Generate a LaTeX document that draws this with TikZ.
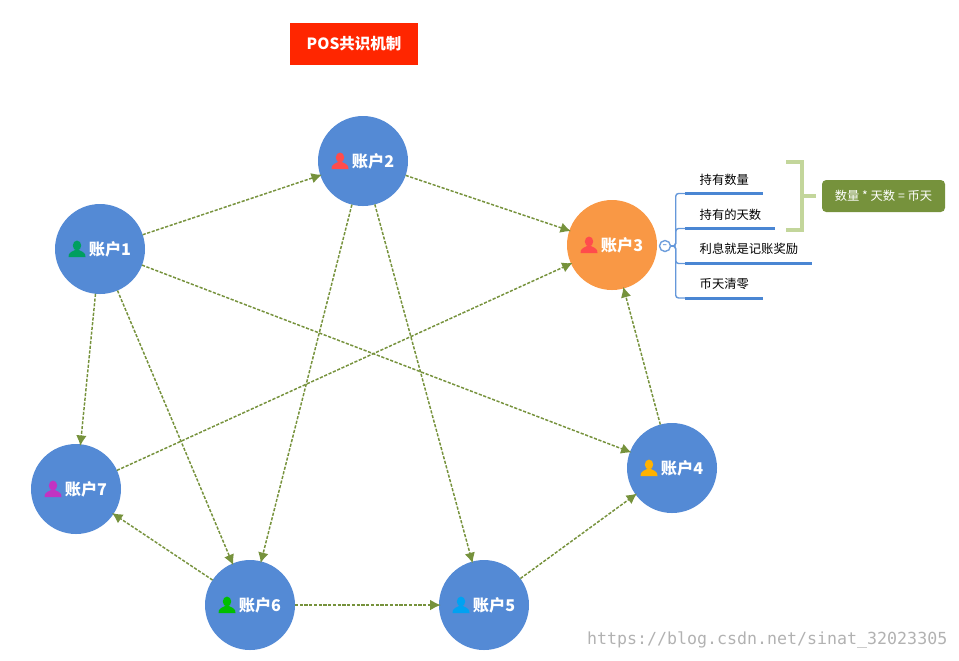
\documentclass[tikz,border=0pt]{standalone}
\usepackage{fontspec}
\usepackage{tikz}
\usetikzlibrary{arrows.meta,calc,positioning}
\newfontfamily\cjk{Noto Sans CJK SC}
\setmonofont{DejaVu Sans Mono}
\definecolor{acctblue}{HTML}{548AD5}
\definecolor{acctorange}{HTML}{F99845}
\definecolor{linkgreen}{HTML}{76923C}
\definecolor{brackgreen}{HTML}{C3D69B}
\definecolor{barblue}{HTML}{4A86D3}
\definecolor{titlered}{HTML}{FF2600}
\definecolor{iconcyan}{HTML}{00A2F2}

\begin{document}
\begin{tikzpicture}[
  acct/.style={circle, fill=acctblue, minimum size=0.9cm, inner sep=0pt, outer sep=0pt,
    text=white, font=\cjk\bfseries\fontsize{4.6pt}{5.5pt}\selectfont},
  link/.style={-{Latex[length=3pt,width=3pt]}, linkgreen, shorten >=-0.5pt, line width=0.42pt, dash pattern=on 0.9pt off 0.45pt},
  leaf/.style={anchor=west, inner sep=0pt, font=\cjk\fontsize{3.5pt}{4.2pt}\selectfont},
  bar/.style={barblue, line width=0.85pt},
  branch/.style={barblue!85, line width=0.4pt, rounded corners=0.8pt},
  pics/usericon/.style={code={
    \fill[#1] (0,0.035) ellipse (0.042 and 0.05);
    \fill[#1] (-0.085,-0.08) .. controls (-0.09,-0.03) and (-0.04,-0.025) .. (-0.02,-0.01)
      -- (0.02,-0.01) .. controls (0.04,-0.025) and (0.09,-0.03) .. (0.085,-0.08) -- cycle;
  }}]
\useasboundingbox (0,0) rectangle (9.59,-6.6);

% title
\node[fill=titlered, text=white, minimum width=1.28cm, minimum height=0.42cm, inner sep=0pt,
  font=\cjk\bfseries\fontsize{4.4pt}{5.5pt}\selectfont] (title) at (3.54,-0.44) {POS共识机制};

% accounts
\node[acct] (a1) at (1.00,-2.49) {\hspace{0.2cm}账户1};
\node[acct] (a2) at (3.63,-1.61) {\hspace{0.2cm}账户2};
\node[acct, fill=acctorange] (a3) at (6.12,-2.45) {\hspace{0.2cm}账户3};
\node[acct] (a4) at (6.72,-4.68) {\hspace{0.2cm}账户4};
\node[acct] (a5) at (4.84,-6.05) {\hspace{0.2cm}账户5};
\node[acct] (a6) at (2.50,-6.05) {\hspace{0.2cm}账户6};
\node[acct] (a7) at (0.76,-4.89) {\hspace{0.2cm}账户7};

\pic at ($(a1)+(-0.23,0)$) {usericon={teal!75!green}};
\pic at ($(a2)+(-0.23,0)$) {usericon={red!70!white}};
\pic at ($(a3)+(-0.23,0)$) {usericon={red!70!white}};
\pic at ($(a4)+(-0.23,0)$) {usericon={orange!60!yellow}};
\pic at ($(a5)+(-0.23,0)$) {usericon=iconcyan};
\pic at ($(a6)+(-0.23,0)$) {usericon={green!75!black}};
\pic at ($(a7)+(-0.23,0)$) {usericon={violet!60!magenta!80!white}};

\draw[link] (a1) -- (a2);
\draw[link] (a2) -- (a3);
\draw[link] (a1) -- (a7);
\draw[link] (a1) -- (a6);
\draw[link] (a1) -- (a4);
\draw[link] (a2) -- (a6);
\draw[link] (a2) -- (a5);
\draw[link] (a7) -- (a3);
\draw[link] (a6) -- (a7);
\draw[link] (a6) -- (a5);
\draw[link] (a5) -- (a4);
\draw[link] (a4) -- (a3);

% branches of account 3
\node[circle, draw=barblue!80, fill=white, line width=0.4pt, minimum size=0.11cm, inner sep=0pt,
  text=barblue, font=\fontsize{3pt}{3pt}\selectfont] (hub) at (6.65,-2.46) {-};
\coordinate (trunk) at (6.757,-2.46);

\node[leaf] (n1) at (6.99,-1.80) {持有数量};
\node[leaf] (n2) at (6.99,-2.15) {持有的天数};
\node[leaf] (n3) at (6.99,-2.49) {利息就是记账奖励};
\node[leaf] (n4) at (6.99,-2.84) {币天清零};

\coordinate (b1) at (6.85,-1.935);
\coordinate (e1) at (7.63,-1.935);
\coordinate (b2) at (6.85,-2.285);
\coordinate (e2) at (7.75,-2.285);
\coordinate (b3) at (6.85,-2.635);
\coordinate (e3) at (8.12,-2.635);
\coordinate (b4) at (6.85,-2.98);
\coordinate (e4) at (7.63,-2.98);

\draw[branch] (hub) -- (trunk) |- (b1);
\draw[branch] (hub) -- (trunk) |- (b2);
\draw[branch] (hub) -- (trunk) |- (b3);
\draw[branch] (hub) -- (trunk) |- (b4);
\draw[bar] (b1) -- (e1);
\draw[bar] (b2) -- (e2);
\draw[bar] (b3) -- (e3);
\draw[bar] (b4) -- (e4);

% summary
\node[fill=linkgreen, text=white, rounded corners=1.2pt, minimum width=1.23cm, minimum height=0.32cm, inner sep=0pt,
  font=\cjk\fontsize{3.5pt}{4.2pt}\selectfont] (sum) at (8.835,-1.96) {数量 * 天数 = 币天};
\coordinate (kt) at (7.86,-1.62);
\coordinate (kb) at (7.86,-2.30);
\coordinate (km) at (8.02,-1.96);
\draw[brackgreen, line width=1.4pt, line cap=butt] (kt) -| (km) |- (kb);
\draw[brackgreen, line width=1.4pt] (km) -- (8.16,-1.96);

% watermark
\node[anchor=east, inner sep=0pt, text=gray!60, font=\ttfamily\fontsize{4.73pt}{5.5pt}\selectfont] (mark) at (9.48,-6.40)
  {https://blog.csdn.net/sinat\_32023305};
\end{tikzpicture}
\end{document}
